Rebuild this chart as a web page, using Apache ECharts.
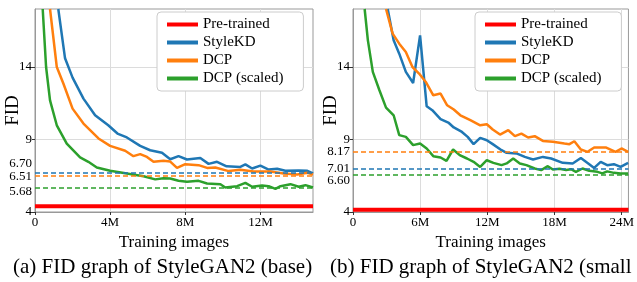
<!DOCTYPE html>
<html>
<head>
<meta charset="utf-8">
<script src="https://cdn.jsdelivr.net/npm/echarts@6/dist/echarts.min.js"></script>
<style>
html,body{margin:0;padding:0;background:#fff}
#chart{width:637px;height:282px}
</style>
</head>
<body>
<div id="chart"></div>
<script>
// names + colours
const seriesNames = ['Pre-trained', 'StyleKD', 'DCP', 'DCP (scaled)'];
const colors = ['#ff0000', '#1f77b4', '#ff7f0e', '#2ca02c'];

// (a) base: [training images (M), FID]
const baseStyleKD = [[1.24,18.0],[1.6,14.6],[2.0,13.27],[2.58,11.82],[3.2,10.67],[3.9,9.98],[4.39,9.41],[4.89,9.14],[5.6,8.56],[6.13,8.26],[6.76,8.08],[7.2,7.64],[7.64,7.85],[8.09,7.62],[8.8,7.72],[9.24,7.32],[9.69,7.46],[10.2,7.15],[10.93,7.11],[11.2,7.28],[11.56,7.0],[12.0,7.2],[12.44,6.93],[12.89,6.98],[13.33,6.84],[14.04,6.86],[14.5,6.84],[14.8,6.66]];
const baseDCP = [[0.8,18.0],[1.16,14.0],[1.51,12.86],[2.0,11.13],[2.58,10.1],[3.38,9.07],[4.0,8.56],[4.8,8.22],[5.24,7.85],[5.6,7.99],[5.96,7.80],[6.31,7.46],[6.84,7.53],[7.2,7.48],[7.56,7.04],[8.0,7.30],[8.71,7.23],[9.16,7.04],[9.6,7.07],[10.31,6.82],[10.93,6.91],[11.64,6.79],[12.53,6.79],[13.24,6.66],[13.96,6.59],[14.5,6.70],[14.8,6.59]];
const baseScaled = [[0.41,18.0],[0.59,14.0],[0.8,11.7],[1.16,9.98],[1.69,8.72],[2.4,7.76],[2.84,7.46],[3.29,7.07],[4.0,6.84],[4.89,6.66],[5.78,6.47],[6.4,6.25],[6.84,6.33],[7.2,6.31],[7.64,6.15],[8.09,6.08],[8.71,6.15],[9.16,5.97],[9.87,5.92],[10.13,5.69],[10.76,5.78],[11.2,6.01],[11.56,5.74],[12.09,5.83],[12.44,5.78],[12.8,5.60],[13.07,5.78],[13.6,5.92],[14.04,5.74],[14.4,5.85],[14.8,5.69]];
const basePretrained = 4.4;
const baseFinal = [6.70, 6.51, 5.68]; // StyleKD, DCP, DCP (scaled)
const baseXMax = 14.8;
const baseXTicks = [0, 4, 8, 12];

// (b) small
const smallStyleKD = [[3.1,18.0],[3.63,15.84],[4.13,14.92],[4.72,13.66],[5.37,12.90],[5.99,16.18],[6.58,11.29],[7.08,11.02],[7.82,10.40],[8.56,10.14],[9.0,9.83],[9.73,9.52],[10.24,9.18],[10.77,8.68],[11.36,9.11],[11.95,8.95],[12.48,8.68],[13.27,8.26],[13.72,8.08],[14.6,8.04],[15.35,7.80],[16.08,7.62],[16.96,7.80],[17.7,7.69],[18.73,7.39],[19.62,7.35],[20.35,7.73],[21.1,7.30],[21.54,7.04],[22.12,7.46],[22.7,7.23],[23.3,7.30],[23.9,7.11],[24.57,7.39]];
const smallDCP = [[2.95,18.0],[3.54,16.30],[4.13,15.61],[4.72,15.03],[5.31,14.0],[5.9,13.55],[6.5,12.97],[7.17,12.05],[7.82,12.17],[8.41,11.36],[9.0,11.07],[9.59,10.67],[10.48,10.33],[11.36,9.98],[11.95,10.05],[12.48,9.69],[13.13,9.34],[13.87,9.64],[14.46,9.23],[15.04,9.41],[15.64,9.14],[16.23,9.23],[16.96,8.90],[17.85,8.84],[18.88,8.72],[19.33,8.68],[19.77,8.88],[20.35,8.31],[20.95,8.15],[21.54,8.45],[22.57,8.45],[23.45,8.15],[23.98,8.38],[24.57,8.15]];
const smallScaled = [[1.04,18.0],[1.33,15.84],[1.77,13.66],[2.36,12.40],[2.95,11.2],[3.63,10.67],[4.13,9.30],[4.72,9.18],[5.37,8.61],[5.99,8.72],[6.58,8.38],[7.17,7.85],[7.82,7.76],[8.35,7.53],[8.94,8.31],[9.53,7.92],[10.18,7.69],[10.77,7.46],[11.36,7.11],[11.95,7.57],[12.54,7.39],[13.27,7.23],[13.72,7.35],[14.31,7.69],[14.9,7.35],[15.49,7.23],[16.23,7.0],[16.81,6.89],[17.4,7.16],[17.85,6.93],[18.44,6.98],[19.03,6.89],[19.47,6.95],[19.91,6.77],[20.5,7.0],[21.1,6.84],[21.83,6.77],[22.27,6.66],[22.7,6.80],[23.3,6.70],[23.9,6.66],[24.57,6.66]];
const smallPretrained = 4.15;
const smallFinal = [7.01, 8.17, 6.60];
const smallXMax = 24.6;
const smallXTicks = [0, 6, 12, 18, 24];

const yTicks = [4, 9, 14];
const captions = ['(a) FID graph of StyleGAN2 (base)', '(b) FID graph of StyleGAN2 (small'];

const FONT = "'Liberation Serif', 'DejaVu Serif', serif";
// vertical nudges (px) of the final-value labels so they don't collide
const baseLabelShift = {'6.70': -9, '6.51': 1, '5.68': 4};
const smallLabelShift = {'6.60': 6};

function richFor(shifts) {
    const rich = {};
    Object.keys(shifts).forEach(function (k, i) {
        const s = shifts[k];
        rich['s' + i] = {
            fontFamily: FONT, fontSize: 13, color: '#000',
            padding: s < 0 ? [0, 0, -2 * s, 0] : [2 * s, 0, 0, 0]
        };
    });
    return rich;
}
function yLabelFormatter(shifts) {
    const keys = Object.keys(shifts);
    return function (v) {
        if (yTicks.indexOf(v) >= 0) return String(v);
        const t = v.toFixed(2);
        const i = keys.indexOf(t);
        return i >= 0 ? '{s' + i + '|' + t + '}' : t;
    };
}

function makeAxes(idx, xMax, xTicks, finals, shifts) {
    const x = {
        type: 'value', gridIndex: idx, min: 0, max: xMax,
        name: 'Training images', nameLocation: 'middle', nameGap: 18,
        nameTextStyle: {fontFamily: FONT, fontSize: 17, color: '#000'},
        axisLine: {show: true, lineStyle: {color: '#999'}},
        axisTick: {show: true, customValues: xTicks, length: 3, lineStyle: {color: '#333'}},
        axisLabel: {customValues: xTicks, margin: 4, fontFamily: FONT, fontSize: 13, color: '#000',
            formatter: function (v) { return v === 0 ? '0' : v + 'M'; }},
        splitLine: {show: true, lineStyle: {color: '#dcdcdc', width: 1}}
    };
    const y = {
        type: 'value', gridIndex: idx, min: 4, max: 18,
        name: 'FID', nameLocation: 'middle', nameGap: 12, nameMoveOverlap: false,
        nameTextStyle: {fontFamily: FONT, fontSize: 19, color: '#000'},
        axisLine: {show: true, lineStyle: {color: '#999'}},
        axisTick: {show: true, customValues: yTicks, length: 3, lineStyle: {color: '#333'}},
        axisLabel: {customValues: yTicks.concat(finals), margin: 3, fontFamily: FONT, fontSize: 13, color: '#000',
            formatter: yLabelFormatter(shifts), rich: richFor(shifts)},
        splitLine: {show: true, lineStyle: {color: '#dcdcdc', width: 1}}
    };
    return [x, y];
}

function makeSeries(idx, xMax, pre, curves, finals) {
    const out = [{
        name: seriesNames[0], type: 'line', xAxisIndex: idx, yAxisIndex: idx,
        data: [[0, pre], [xMax, pre]], symbol: 'none',
        lineStyle: {color: colors[0], width: 4}, itemStyle: {color: colors[0]}, z: 3
    }];
    curves.forEach(function (c, i) {
        out.push({
            name: seriesNames[i + 1], type: 'line', xAxisIndex: idx, yAxisIndex: idx,
            data: c, symbol: 'none', clip: true,
            lineStyle: {color: colors[i + 1], width: 2.5}, itemStyle: {color: colors[i + 1]},
            markLine: {
                silent: true, symbol: 'none', label: {show: false},
                lineStyle: {color: colors[i + 1], type: [5, 3], width: 1.5},
                data: [{yAxis: finals[i]}]
            }
        });
    });
    return out;
}

function legendAt(left) {
    return {
        orient: 'vertical', left: left, top: 12,
        data: seriesNames, icon: 'rect', itemWidth: 31, itemHeight: 4, itemGap: 3,
        padding: [5, 20, 5, 10],
        backgroundColor: '#fff', borderColor: '#cccccc', borderWidth: 1, borderRadius: 4,
        textStyle: {fontFamily: FONT, fontSize: 15, color: '#000'}
    };
}

const chart = echarts.init(document.getElementById('chart'));
const axA = makeAxes(0, baseXMax, baseXTicks, baseFinal, baseLabelShift);
const axB = makeAxes(1, smallXMax, smallXTicks, smallFinal, smallLabelShift);

chart.setOption({
    backgroundColor: '#fff',
    animation: false,
    grid: [
        {left: 35, top: 9, width: 278, height: 203, show: true, borderColor: '#999', borderWidth: 1},
        {left: 353, top: 9, width: 278, height: 203, show: true, borderColor: '#999', borderWidth: 1}
    ],
    xAxis: [axA[0], axB[0]],
    yAxis: [axA[1], axB[1]],
    legend: [legendAt(157), legendAt(475)],
    title: [
        {text: captions[0], left: 13, top: 257, padding: 0,
            textStyle: {fontFamily: FONT, fontSize: 21, fontWeight: 'normal', color: '#000'}},
        {text: captions[1], left: 330, top: 257, padding: 0,
            textStyle: {fontFamily: FONT, fontSize: 21, fontWeight: 'normal', color: '#000'}}
    ],
    series: makeSeries(0, baseXMax, basePretrained, [baseStyleKD, baseDCP, baseScaled], baseFinal)
        .concat(makeSeries(1, smallXMax, smallPretrained, [smallStyleKD, smallDCP, smallScaled], smallFinal))
});
</script>
</body>
</html>
